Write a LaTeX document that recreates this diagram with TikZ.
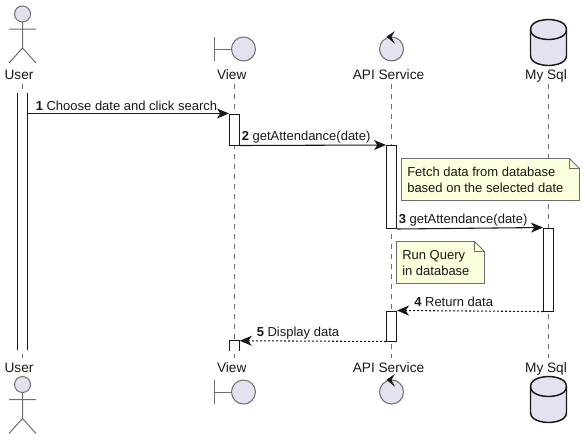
\documentclass[tikz,border=0pt]{standalone}
\usepackage{fontspec}
\setmainfont{Liberation Sans}
\usetikzlibrary{arrows.meta}
\definecolor{partfill}{HTML}{E2E2F0}
\definecolor{notefill}{HTML}{FEFFDD}
\definecolor{linedark}{HTML}{181818}
\definecolor{linegray}{HTML}{6E6E6E}
\tikzset{
	partname/.style={font=\fontsize{10.25}{12}\selectfont,anchor=base,inner sep=0pt,text=linedark},
	msgtext/.style={font=\fontsize{9.75}{11}\selectfont,anchor=base west,inner sep=0pt,text=linedark},
	notetext/.style={font=\fontsize{9.75}{12}\selectfont,anchor=west,align=left,inner sep=0pt,text=linedark},
	lifeline/.style={draw=linegray,line width=.6pt,dash pattern=on 3.75pt off 3.75pt},
	actbar/.style={draw=linedark,fill=white,line width=.75pt,minimum width=7.5pt,inner sep=0pt},
	openbar/.style={minimum width=7.5pt,inner sep=0pt},
	glyph/.style={draw=linegray,fill=partfill,line width=.75pt},
	glyphline/.style={draw=linegray,line width=.75pt},
	dbline/.style={draw=linedark,line width=1.1pt},
	msg/.style={draw=linedark,line width=.8pt,-{Stealth[length=9pt,width=7.5pt,inset=2.5pt]}},
	msgback/.style={msg,dash pattern=on 1.5pt off 1.5pt},
	notebox/.style={draw=linegray,fill=notefill,line width=.6pt}
}
\begin{document}
\begin{tikzpicture}[x=.75pt,y=-.75pt]
		\useasboundingbox (0,0) rectangle (585,440);
		% names, lifelines
		\foreach \part/\lab/\tx/\lx in {user/User/19/22.5,view/View/231.7/234.5,api/API Service/388.5/391.5,sql/My Sql/546/548.5} {
			\node[partname] (\part Top) at (\tx,79.5) {\lab};
			\node[partname] (\part Bottom) at (\tx,372.5) {\lab};
			\coordinate (\part LineTop) at (\lx,84);
			\coordinate (\part LineBottom) at (\lx,358);
			\draw[lifeline] (\part LineTop) -- (\part LineBottom);
		}
		% top and bottom glyphs
		\foreach \dy in {0,370.5} {
			\begin{scope}[yshift=-\dy*.75pt]
				\draw[glyph] (22.5,14) circle (8);
				\draw[glyphline] (22.5,22) -- (22.5,48) (9,29) -- (36,29) (9,63) -- (22.5,48) -- (36,63);
			\end{scope}
		}
		\foreach \dy in {0,343} {
			\begin{scope}[yshift=-\dy*.75pt]
				\draw[glyphline] (214.5,37) -- (214.5,61) (214.5,49) -- (231.5,49);
				\draw[glyph] (243.5,49) circle (12);
				\draw[glyph] (391.5,49) circle (12);
				\filldraw[linedark,line width=.4pt] (387,36.7) -- (394,32) -- (391,37) -- (394,42.7) -- cycle;
			\end{scope}
		}
		\foreach \dy in {0,357} {
			\begin{scope}[yshift=-\dy*.75pt]
				\draw[dbline,fill=partfill] (530.5,29.5) .. controls (530.5,19.5) and (548.5,19.5) .. (548.5,19.5) .. controls (548.5,19.5) and (566.5,19.5) .. (566.5,29.5) -- (566.5,55.5) .. controls (566.5,65.5) and (548.5,65.5) .. (548.5,65.5) .. controls (548.5,65.5) and (530.5,65.5) .. (530.5,55.5) -- cycle;
				\draw[dbline] (530.5,29.5) .. controls (530.5,39.5) and (548.5,39.5) .. (548.5,39.5) .. controls (548.5,39.5) and (566.5,39.5) .. (566.5,29.5);
			\end{scope}
		}
		% activation bars
		\node[openbar,minimum height=192.75pt,fill=white] (userBar) at (22.5,221.5) {};
		\draw[draw=linedark,line width=.75pt] (userBar.north west) -- (userBar.south west) (userBar.north east) -- (userBar.south east);
		\node[actbar,minimum height=23.25pt] (viewBar) at (234.5,129.5) {};
		\node[actbar,minimum height=62.25pt] (apiBar) at (391.5,187) {};
		\node[actbar,minimum height=62.25pt] (sqlBar) at (548.5,269.5) {};
		\node[actbar,minimum height=22.5pt] (apiBarTwo) at (391.5,326) {};
		\node[openbar,minimum height=7.5pt,fill=white] (viewBarTwo) at (234.5,346) {};
		\draw[draw=linedark,line width=.75pt] (viewBarTwo.south west) -- (viewBarTwo.north west) -- (viewBarTwo.north east) -- (viewBarTwo.south east);
		% messages
		\draw[msg] (userBar.east |- viewBar.north west) -- (viewBar.north west);
		\draw[msg] (viewBar.south east) -- (apiBar.north west);
		\draw[msg] (apiBar.south east) -- (sqlBar.north west);
		\draw[msgback] (sqlBar.south west) -- (apiBarTwo.north east);
		\draw[msgback] (apiBarTwo.south west) -- (viewBarTwo.north east);
		\node[msgtext] (msgOne) at (35.5,110) {\textbf{1} Choose date and click search};
		\node[msgtext] (msgTwo) at (241.5,140.5) {\textbf{2} getAttendance(date)};
		\node[msgtext] (msgThree) at (398.5,223.5) {\textbf{3} getAttendance(date)};
		\node[msgtext] (msgFour) at (414,306.5) {\textbf{4} Return data};
		\node[msgtext] (msgFive) at (256.5,336.5) {\textbf{5} Display data};
		% notes
		\draw[notebox] (401.5,158.5) -- (569.5,158.5) -- (579.5,168.5) -- (579.5,200.5) -- (401.5,200.5) -- cycle;
		\draw[notebox,fill=none] (569.5,158.5) -- (569.5,168.5) -- (579.5,168.5);
		\node[notetext] (noteFetch) at (407,180) {Fetch data from database\\based on the selected date};
		\draw[notebox] (396.5,241.5) -- (474.5,241.5) -- (484.5,251.5) -- (484.5,283.5) -- (396.5,283.5) -- cycle;
		\draw[notebox,fill=none] (474.5,241.5) -- (474.5,251.5) -- (484.5,251.5);
		\node[notetext] (noteQuery) at (402,263) {Run Query\\in database};
	\end{tikzpicture}
\end{document}
